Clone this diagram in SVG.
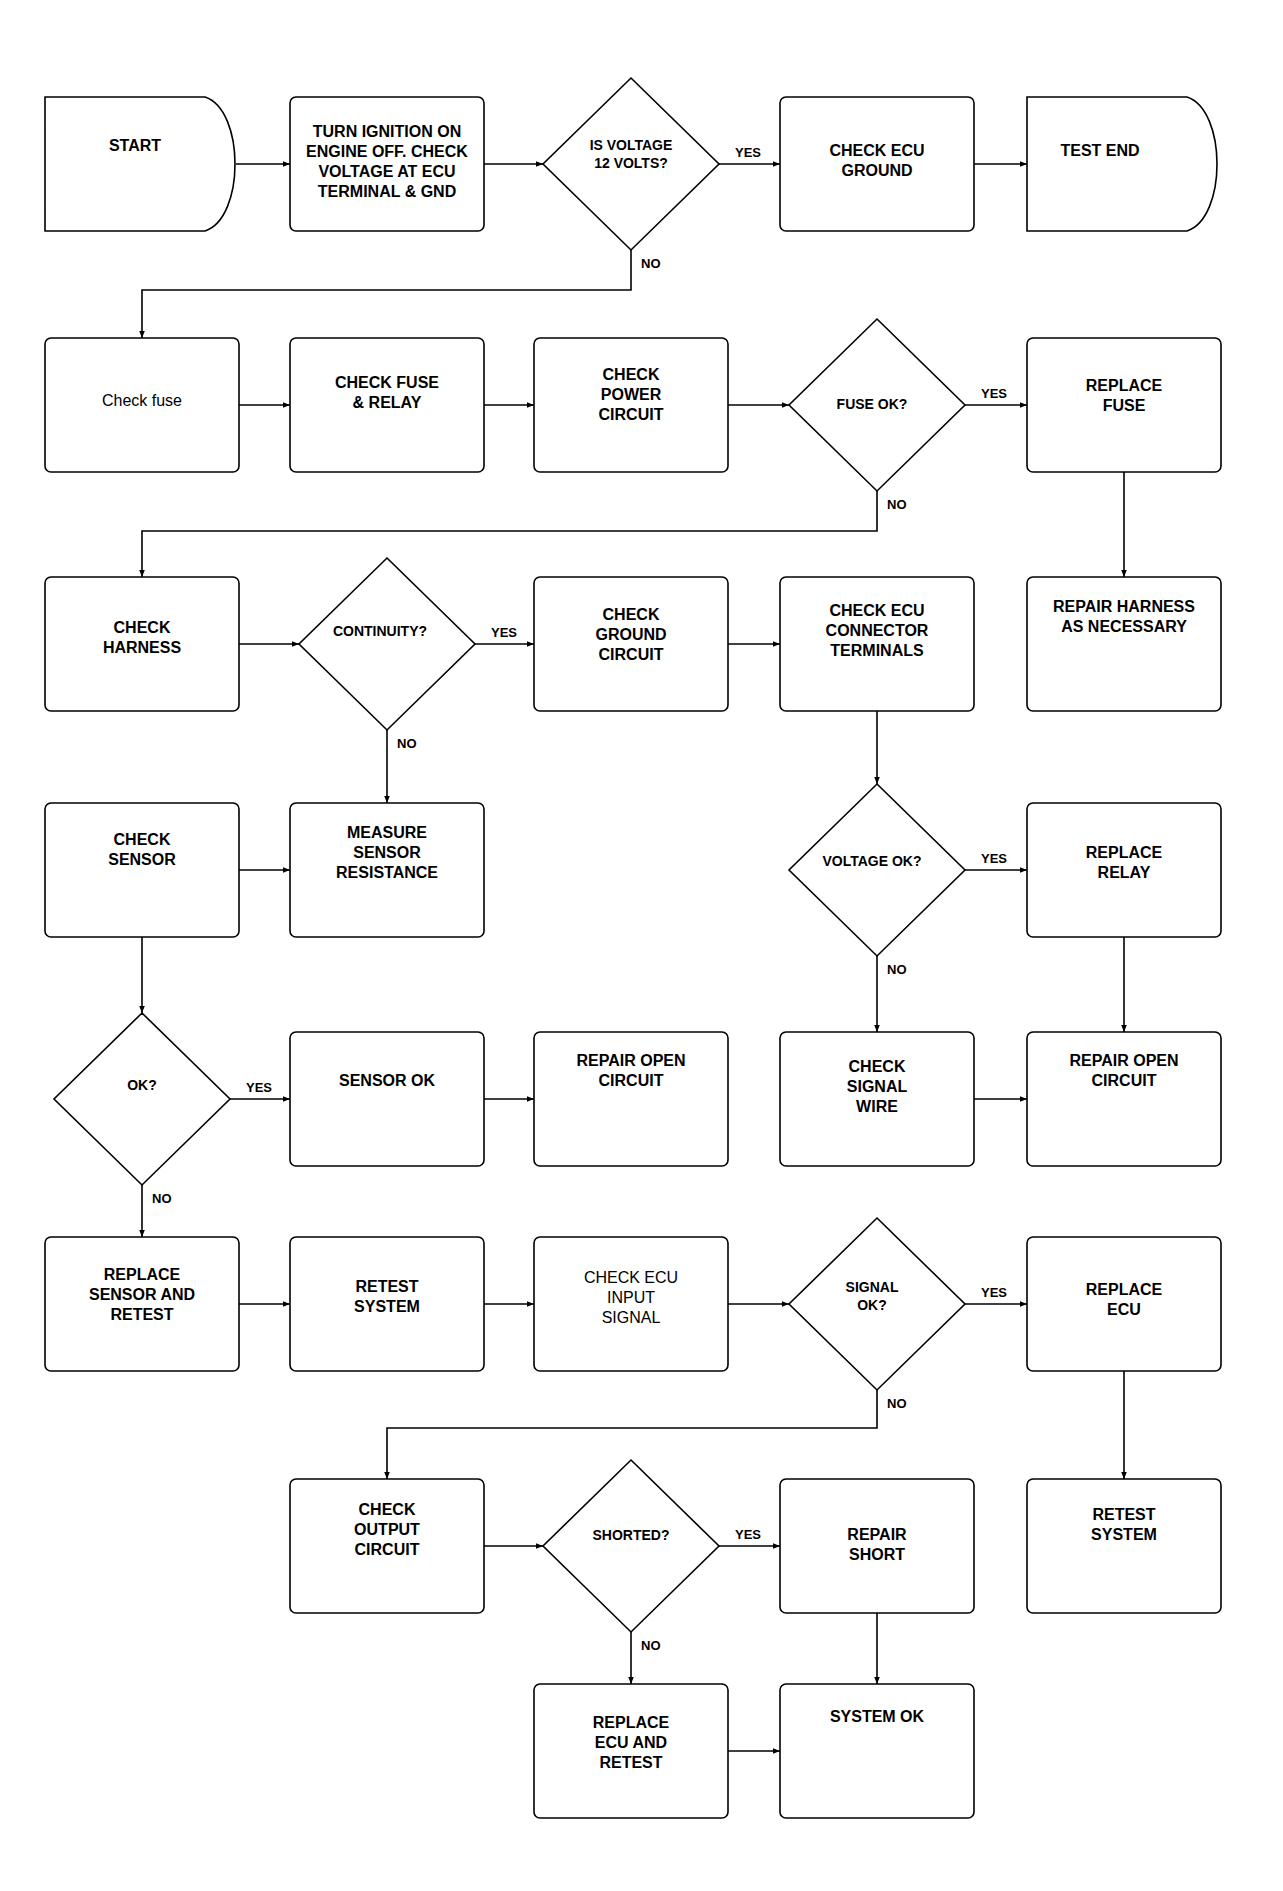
<svg xmlns="http://www.w3.org/2000/svg" width="1283" height="1891" viewBox="0 0 1283 1891">
<style>
.box{fill:#fff;stroke:#000;stroke-width:1.6}
.dia{fill:#fff;stroke:#000;stroke-width:1.6}
.t{font-family:"Liberation Sans",Arial,sans-serif;font-size:16px;font-weight:bold;fill:#000;text-anchor:middle}
.tn{font-family:"Liberation Sans",Arial,sans-serif;font-size:16px;font-weight:normal;fill:#000;text-anchor:middle}
.td{font-family:"Liberation Sans",Arial,sans-serif;font-size:14px;font-weight:bold;fill:#000;text-anchor:middle}
.lbl{font-family:"Liberation Sans",Arial,sans-serif;font-size:13px;font-weight:bold;fill:#000}
.c{fill:none;stroke:#000;stroke-width:1.6;marker-end:url(#ah)}
</style>
<defs>
<marker id="ah" viewBox="0 0 10 10" refX="10" refY="5" markerWidth="7" markerHeight="7" orient="auto" markerUnits="userSpaceOnUse">
<path d="M0,1 L10,5 L0,9 Z" fill="#000"/>
</marker>
</defs>
<rect width="1283" height="1891" fill="#fff"/>

<g id="connectors">
<path class="c" d="M236,164 H290"/>
<path class="c" d="M484,164 H543"/>
<path class="c" d="M719,164 H780"/>
<path class="c" d="M974,164 H1027"/>
<path class="c" d="M631,250 V290 H142 V338"/>
<path class="c" d="M239,405 H290"/>
<path class="c" d="M484,405 H534"/>
<path class="c" d="M728,405 H789"/>
<path class="c" d="M965,405 H1027"/>
<path class="c" d="M877,491 V531 H142 V577"/>
<path class="c" d="M1124,472 V577"/>
<path class="c" d="M239,644 H299"/>
<path class="c" d="M475,644 H534"/>
<path class="c" d="M728,644 H780"/>
<path class="c" d="M387,730 V803"/>
<path class="c" d="M877,711 V784"/>
<path class="c" d="M239,870 H290"/>
<path class="c" d="M965,870 H1027"/>
<path class="c" d="M877,956 V1032"/>
<path class="c" d="M142,937 V1013"/>
<path class="c" d="M1124,937 V1032"/>
<path class="c" d="M230,1099 H290"/>
<path class="c" d="M484,1099 H534"/>
<path class="c" d="M974,1099 H1027"/>
<path class="c" d="M142,1185 V1237"/>
<path class="c" d="M239,1304 H290"/>
<path class="c" d="M484,1304 H534"/>
<path class="c" d="M728,1304 H789"/>
<path class="c" d="M965,1304 H1027"/>
<path class="c" d="M877,1390 V1428 H387 V1479"/>
<path class="c" d="M1124,1371 V1479"/>
<path class="c" d="M484,1546 H543"/>
<path class="c" d="M719,1546 H780"/>
<path class="c" d="M631,1632 V1684"/>
<path class="c" d="M877,1613 V1684"/>
<path class="c" d="M728,1751 H780"/>
<text class="lbl" x="735" y="157">YES</text>
<text class="lbl" x="641" y="268">NO</text>
<text class="lbl" x="981" y="398">YES</text>
<text class="lbl" x="887" y="509">NO</text>
<text class="lbl" x="491" y="637">YES</text>
<text class="lbl" x="397" y="748">NO</text>
<text class="lbl" x="981" y="863">YES</text>
<text class="lbl" x="887" y="974">NO</text>
<text class="lbl" x="246" y="1092">YES</text>
<text class="lbl" x="152" y="1203">NO</text>
<text class="lbl" x="981" y="1297">YES</text>
<text class="lbl" x="887" y="1408">NO</text>
<text class="lbl" x="735" y="1539">YES</text>
<text class="lbl" x="641" y="1650">NO</text>
</g>

<g id="n1"><path class="box" d="M45,97 H205 C245,110 245,218 205,231 H45 Z"/><text class="t" x="135" y="151">START</text></g>
<g id="n2"><rect class="box" x="290" y="97" width="194" height="134" rx="6"/><text class="t" x="387" y="137">TURN IGNITION ON</text><text class="t" x="387" y="157">ENGINE OFF. CHECK</text><text class="t" x="387" y="177">VOLTAGE AT ECU</text><text class="t" x="387" y="197">TERMINAL &amp; GND</text></g>
<g id="d1"><polygon class="dia" points="631,78 719,164 631,250 543,164"/><text class="td" x="631" y="150">IS VOLTAGE</text><text class="td" x="631" y="168">12 VOLTS?</text></g>
<g id="n4"><rect class="box" x="780" y="97" width="194" height="134" rx="6"/><text class="t" x="877" y="156">CHECK ECU</text><text class="t" x="877" y="176">GROUND</text></g>
<g id="n5"><path class="box" d="M1027,97 H1187 C1227,110 1227,218 1187,231 H1027 Z"/><text class="t" x="1100" y="156">TEST END</text></g>

<g id="n6"><rect class="box" x="45" y="338" width="194" height="134" rx="6"/><text class="tn" x="142" y="406">Check fuse</text></g>
<g id="n7"><rect class="box" x="290" y="338" width="194" height="134" rx="6"/><text class="t" x="387" y="388">CHECK FUSE</text><text class="t" x="387" y="408">&amp; RELAY</text></g>
<g id="n8"><rect class="box" x="534" y="338" width="194" height="134" rx="6"/><text class="t" x="631" y="380">CHECK</text><text class="t" x="631" y="400">POWER</text><text class="t" x="631" y="420">CIRCUIT</text></g>
<g id="d2"><polygon class="dia" points="877,319 965,405 877,491 789,405"/><text class="td" x="872" y="409">FUSE OK?</text></g>
<g id="n9"><rect class="box" x="1027" y="338" width="194" height="134" rx="6"/><text class="t" x="1124" y="391">REPLACE</text><text class="t" x="1124" y="411">FUSE</text></g>

<g id="n10"><rect class="box" x="45" y="577" width="194" height="134" rx="6"/><text class="t" x="142" y="633">CHECK</text><text class="t" x="142" y="653">HARNESS</text></g>
<g id="d3"><polygon class="dia" points="387,558 475,644 387,730 299,644"/><text class="td" x="380" y="636">CONTINUITY?</text></g>
<g id="n11"><rect class="box" x="534" y="577" width="194" height="134" rx="6"/><text class="t" x="631" y="620">CHECK</text><text class="t" x="631" y="640">GROUND</text><text class="t" x="631" y="660">CIRCUIT</text></g>
<g id="n12"><rect class="box" x="780" y="577" width="194" height="134" rx="6"/><text class="t" x="877" y="616">CHECK ECU</text><text class="t" x="877" y="636">CONNECTOR</text><text class="t" x="877" y="656">TERMINALS</text></g>
<g id="n13"><rect class="box" x="1027" y="577" width="194" height="134" rx="6"/><text class="t" x="1124" y="612">REPAIR HARNESS</text><text class="t" x="1124" y="632">AS NECESSARY</text></g>

<g id="n14"><rect class="box" x="45" y="803" width="194" height="134" rx="6"/><text class="t" x="142" y="845">CHECK</text><text class="t" x="142" y="865">SENSOR</text></g>
<g id="n15"><rect class="box" x="290" y="803" width="194" height="134" rx="6"/><text class="t" x="387" y="838">MEASURE</text><text class="t" x="387" y="858">SENSOR</text><text class="t" x="387" y="878">RESISTANCE</text></g>
<g id="d4"><polygon class="dia" points="877,784 965,870 877,956 789,870"/><text class="td" x="872" y="866">VOLTAGE OK?</text></g>
<g id="n16"><rect class="box" x="1027" y="803" width="194" height="134" rx="6"/><text class="t" x="1124" y="858">REPLACE</text><text class="t" x="1124" y="878">RELAY</text></g>

<g id="d5"><polygon class="dia" points="142,1013 230,1099 142,1185 54,1099"/><text class="td" x="142" y="1090">OK?</text></g>
<g id="n17"><rect class="box" x="290" y="1032" width="194" height="134" rx="6"/><text class="t" x="387" y="1086">SENSOR OK</text></g>
<g id="n18"><rect class="box" x="534" y="1032" width="194" height="134" rx="6"/><text class="t" x="631" y="1066">REPAIR OPEN</text><text class="t" x="631" y="1086">CIRCUIT</text></g>
<g id="n19"><rect class="box" x="780" y="1032" width="194" height="134" rx="6"/><text class="t" x="877" y="1072">CHECK</text><text class="t" x="877" y="1092">SIGNAL</text><text class="t" x="877" y="1112">WIRE</text></g>
<g id="n20"><rect class="box" x="1027" y="1032" width="194" height="134" rx="6"/><text class="t" x="1124" y="1066">REPAIR OPEN</text><text class="t" x="1124" y="1086">CIRCUIT</text></g>

<g id="n21"><rect class="box" x="45" y="1237" width="194" height="134" rx="6"/><text class="t" x="142" y="1280">REPLACE</text><text class="t" x="142" y="1300">SENSOR AND</text><text class="t" x="142" y="1320">RETEST</text></g>
<g id="n22"><rect class="box" x="290" y="1237" width="194" height="134" rx="6"/><text class="t" x="387" y="1292">RETEST</text><text class="t" x="387" y="1312">SYSTEM</text></g>
<g id="n23"><rect class="box" x="534" y="1237" width="194" height="134" rx="6"/><text class="tn" x="631" y="1283">CHECK ECU</text><text class="tn" x="631" y="1303">INPUT</text><text class="tn" x="631" y="1323">SIGNAL</text></g>
<g id="d6"><polygon class="dia" points="877,1218 965,1304 877,1390 789,1304"/><text class="td" x="872" y="1292">SIGNAL</text><text class="td" x="872" y="1310">OK?</text></g>
<g id="n24"><rect class="box" x="1027" y="1237" width="194" height="134" rx="6"/><text class="t" x="1124" y="1295">REPLACE</text><text class="t" x="1124" y="1315">ECU</text></g>

<g id="n25"><rect class="box" x="290" y="1479" width="194" height="134" rx="6"/><text class="t" x="387" y="1515">CHECK</text><text class="t" x="387" y="1535">OUTPUT</text><text class="t" x="387" y="1555">CIRCUIT</text></g>
<g id="d7"><polygon class="dia" points="631,1460 719,1546 631,1632 543,1546"/><text class="td" x="631" y="1540">SHORTED?</text></g>
<g id="n26"><rect class="box" x="780" y="1479" width="194" height="134" rx="6"/><text class="t" x="877" y="1540">REPAIR</text><text class="t" x="877" y="1560">SHORT</text></g>
<g id="n27"><rect class="box" x="1027" y="1479" width="194" height="134" rx="6"/><text class="t" x="1124" y="1520">RETEST</text><text class="t" x="1124" y="1540">SYSTEM</text></g>

<g id="n28"><rect class="box" x="534" y="1684" width="194" height="134" rx="6"/><text class="t" x="631" y="1728">REPLACE</text><text class="t" x="631" y="1748">ECU AND</text><text class="t" x="631" y="1768">RETEST</text></g>
<g id="n29"><rect class="box" x="780" y="1684" width="194" height="134" rx="6"/><text class="t" x="877" y="1722">SYSTEM OK</text></g>
</svg>
